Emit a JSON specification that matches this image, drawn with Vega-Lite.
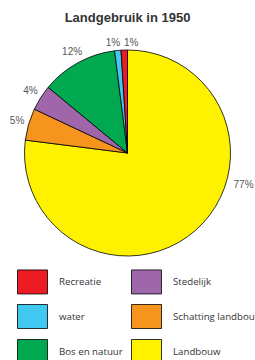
{
  "$schema": "https://vega.github.io/schema/vega-lite/v6.json",
  "width": 255,
  "height": 206,
  "autosize": {"type": "none"},
  "padding": {"left": 0, "right": 0, "top": 50, "bottom": 104},
  "title": {"text": "Landgebruik in 1950", "font": "Liberation Sans", "fontSize": 13, "fontWeight": "bold", "color": "#333333", "anchor": "middle", "offset": 12, "dy": 58},
  "data": {"values": [
    {"cat": "Landbouw", "pct": 77, "ord": 1, "label": "77%"},
    {"cat": "Schatting landbouw", "pct": 5, "ord": 2, "label": "5%"},
    {"cat": "Stedelijk", "pct": 4, "ord": 3, "label": "4%"},
    {"cat": "Bos en natuur", "pct": 12, "ord": 4, "label": "12%"},
    {"cat": "water", "pct": 1, "ord": 5, "label": "1%"},
    {"cat": "Recreatie", "pct": 1, "ord": 6, "label": "1%"}
  ]},
  "encoding": {
    "theta": {"field": "pct", "type": "quantitative", "stack": true},
    "order": {"field": "ord", "type": "quantitative"}
  },
  "layer": [
    {
      "mark": {"type": "arc", "stroke": "#000000", "strokeWidth": 0.8},
      "encoding": {
        "color": {
          "field": "cat",
          "type": "nominal",
          "scale": {
            "domain": ["Recreatie", "water", "Bos en natuur", "Stedelijk", "Schatting landbouw", "Landbouw"],
            "range": ["#ED1C24", "#40C8F0", "#00A94F", "#A066AA", "#F7941D", "#FFF200"]
          },
          "legend": {
            "orient": "none",
            "legendX": 20,
            "legendY": 219,
            "title": null,
            "columns": 2,
            "symbolType": "M-1.25,-1H1.25V1H-1.25Z",
            "symbolSize": 576,
            "symbolStrokeColor": "#000000",
            "symbolStrokeWidth": 0.8,
            "symbolOpacity": 1,
            "labelFont": "Open Sans",
            "labelFontSize": 9.7,
            "labelColor": "#333333",
            "labelOffset": 14,
            "labelLimit": 300,
            "columnPadding": 6,
            "rowPadding": 6,
            "padding": 0
          }
        }
      }
    },
    {
      "mark": {"type": "text", "radius": 115, "font": "Liberation Sans", "fontSize": 10, "fill": "#555555", "baseline": "middle"},
      "encoding": {
        "text": {"condition": {"test": "datum.ord >= 2 && datum.ord <= 4", "field": "label"}, "value": ""}
      }
    },
    {
      "mark": {"type": "text", "radius": 110, "font": "Liberation Sans", "fontSize": 10, "fill": "#555555", "baseline": "middle", "align": "right", "dx": 3},
      "encoding": {
        "text": {"condition": {"test": "datum.ord == 5", "field": "label"}, "value": ""}
      }
    },
    {
      "mark": {"type": "text", "radius": 110, "font": "Liberation Sans", "fontSize": 10, "fill": "#555555", "baseline": "middle", "align": "left"},
      "encoding": {
        "text": {"condition": {"test": "datum.ord == 6", "field": "label"}, "value": ""}
      }
    },
    {
      "mark": {"type": "text", "radius": 115, "font": "Liberation Sans", "fontSize": 10, "fill": "#555555", "baseline": "middle", "dx": 40, "dy": -54},
      "encoding": {
        "text": {"condition": {"test": "datum.ord == 1", "field": "label"}, "value": ""}
      }
    }
  ]
}
